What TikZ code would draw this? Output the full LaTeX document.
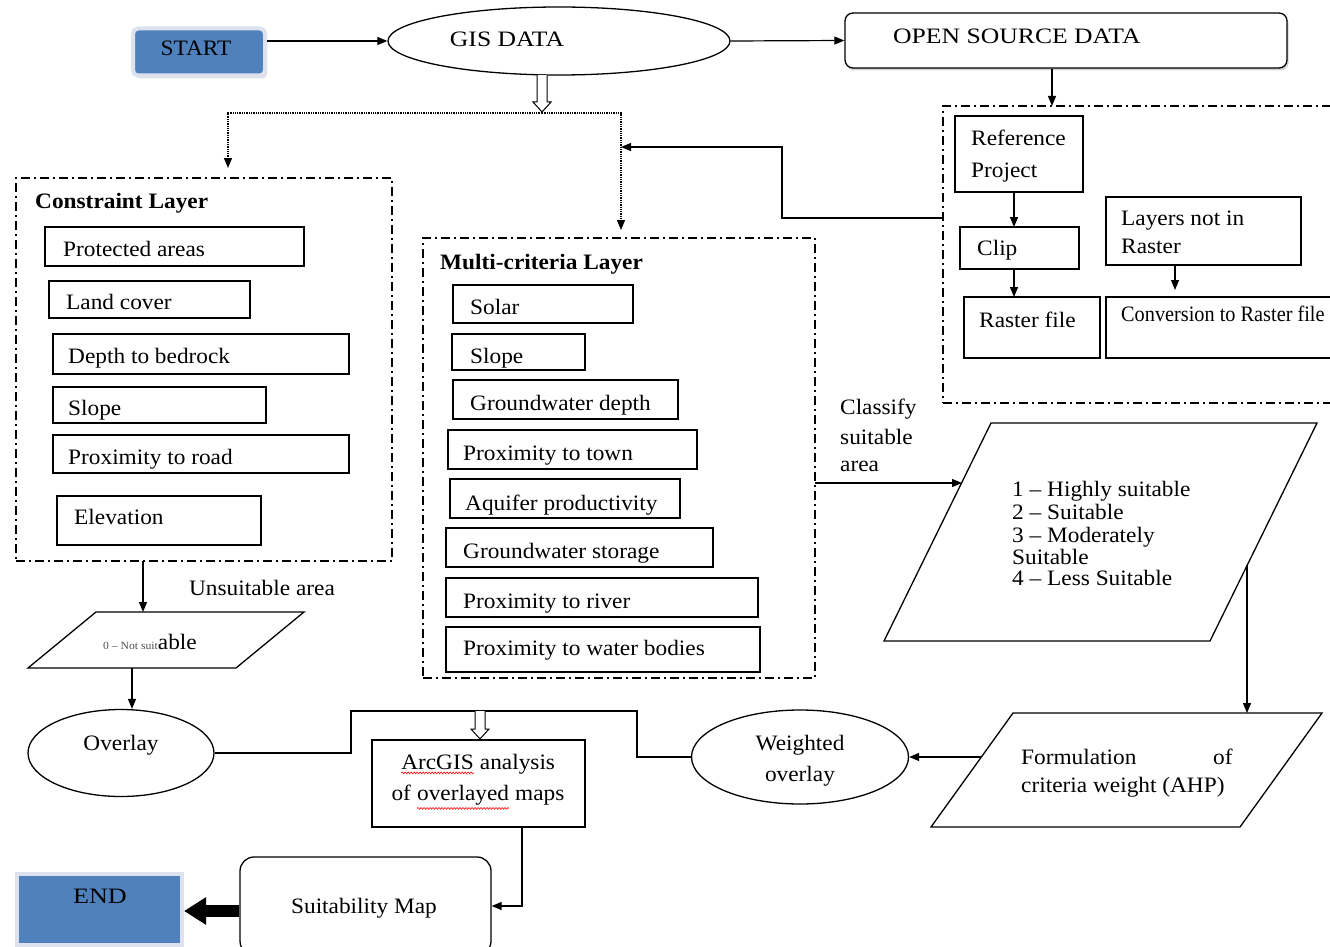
\documentclass[tikz,border=0pt]{standalone}
\usepackage{fontspec}
\setmainfont[FakeStretch=1.06]{Liberation Serif}
\usetikzlibrary{arrows.meta,shapes.geometric,calc,shadows,decorations.pathmorphing}
\definecolor{sblue}{HTML}{4F81BD}
\definecolor{sframe}{HTML}{DCE3EE}
\newcommand\bx[6][]{\node[box,minimum width={#4-#2},minimum height={#5-#3},#1] (#6) at ({(#2+#4)/2},{(#3+#5)/2}) {};}
\newcommand\hollowarrow[3]{\draw[line width=1pt,fill=white] ({#1-5},#2) -- ({#1-5},{#3-10}) -- ({#1-9},{#3-10}) -- (#1,#3) -- ({#1+9},{#3-10}) -- ({#1+5},{#3-10}) -- ({#1+5},#2);}
\newcommand\wv[1]{\tikz[baseline=(w.base)]{\node[inner sep=0pt,outer sep=0pt,anchor=base,draw=none,fill=none](w){#1};\draw[red,line width=0.6pt,decorate,decoration={snake,amplitude=0.9pt,segment length=3pt}]([yshift=-3pt]w.south west)--([yshift=-3pt]w.south east);}}
\begin{document}
\begin{tikzpicture}[x=1pt,y=-1pt,font=\fontsize{22}{26}\selectfont,
  box/.style={draw,line width=1.3pt,inner sep=0pt,outer sep=0pt},
  lbl/.style={inner sep=0pt,anchor=west,text height=14pt,text depth=0pt},
  ar/.style={line width=1.2pt,-{Triangle[length=10pt,width=8pt]}},
  ln/.style={line width=1.2pt},
  dd/.style={draw,line width=1.5pt,dash pattern=on 9pt off 4pt on 2pt off 4pt,inner sep=0pt,outer sep=0pt},
  dt/.style={line width=1.3pt,densely dotted}]
\useasboundingbox (0,0) rectangle (1330,947);

% START
\node[draw=sframe,line width=4pt,fill=sblue,rounded corners=5pt,minimum width=132,minimum height=47,inner sep=0pt,
  drop shadow={shadow xshift=2pt,shadow yshift=-3pt,opacity=0.25}] (start) at (199,52) {};
\node (starttxt) at (196,48) {START};

% GIS DATA
\node[draw,ellipse,line width=1.3pt,minimum width=342,minimum height=68,inner sep=0pt] (gis) at (559,41) {};
\node (gistxt) at (507,39) {\scalebox{1.1}[1]{GIS DATA}};

% OPEN SOURCE DATA
\node[draw,rounded corners=8pt,line width=1.3pt,minimum width=442,minimum height=55,inner sep=0pt,fill=white,
  drop shadow={shadow xshift=1.5pt,shadow yshift=-2.5pt,opacity=0.35}] (osd) at (1066,40.5) {};
\node[lbl] (osdtxt) at (893,37) {\scalebox{1.1}[1]{OPEN SOURCE DATA}};

\draw[ar] (start.east |- gis.west) -- (gis.west);
\draw[ar] (gis.east) -- (osd.west);

% right dash-dot container
\node[dd,minimum width=397,minimum height=297] (rbox) at (1141.5,254.5) {};
\coordinate (rbtop) at (1052,106);
\draw[ar] (osd.south -| rbtop) -- (rbtop);

\bx{955}{116}{1083}{192}{ref}
\node[lbl] at (971,139) {Reference};
\node[lbl] at (971,170) {Project};
\bx{960}{227}{1079}{269}{clip}
\node[lbl] at (977,248) {Clip};
\bx{964}{297}{1100}{358}{raster}
\node[lbl] at (979,320) {Raster file};
\bx{1106}{197}{1301}{265}{layers}
\node[lbl] at (1121,218) {Layers not in};
\node[lbl] at (1121,246) {Raster};
\bx{1106}{297}{1340}{358}{conv}
\node[lbl] at (1121,314) {\scalebox{0.87}[1]{Conversion to Raster file}};

\draw[ar] (ref.south -| 1014,0) -- (clip.north -| 1014,0);
\draw[ar] (clip.south -| 1014,0) -- (raster.north -| 1014,0);
\draw[ar] (layers.south -| 1175,0) -- (1175,290);

% hollow arrow from GIS DATA and dotted split
\hollowarrow{542}{75}{112}
\coordinate (split) at (542,113);
\coordinate (dotL) at (228,168);
\coordinate (dotR) at (621,230);
\draw[dt,-{Triangle[length=10pt,width=8pt]}] (split) -| (dotL);
\draw[dt,-{Triangle[length=10pt,width=8pt]}] (split) -| (dotR);

% arrow from right container back to dotted line
\coordinate (rbl) at (943,218);
\coordinate (dotM) at (621,147);
\draw[ar] (rbl) -- (782,218) -- (782,147) -- (dotM);

% Constraint layer
\node[dd,minimum width=376,minimum height=383] (cbox) at (204,369.5) {};
\node[lbl,font=\fontsize{22}{26}\selectfont\bfseries] at (35,201) {Constraint Layer};
\bx{45}{227}{304}{266}{c1}  \node[lbl] at (63,249) {Protected areas};
\bx{49}{281}{250}{318}{c2}  \node[lbl] at (66,302) {Land cover};
\bx{53}{334}{349}{374}{c3}  \node[lbl] at (68,356) {Depth to bedrock};
\bx{53}{387}{266}{423}{c4}  \node[lbl] at (68,408) {Slope};
\bx{53}{435}{349}{473}{c5}  \node[lbl] at (68,457) {Proximity to road};
\bx{57}{496}{261}{545}{c6}  \node[lbl] at (74,517) {Elevation};

% Multi-criteria layer
\node[dd,minimum width=392,minimum height=440] (mbox) at (619,458) {};
\node[lbl,font=\fontsize{22}{26}\selectfont\bfseries] at (440,262) {Multi-criteria Layer};
\bx{453}{285}{633}{323}{m1}  \node[lbl] at (470,307) {Solar};
\bx{452}{334}{585}{370}{m2}  \node[lbl] at (470,356) {Slope};
\bx{453}{380}{678}{419}{m3}  \node[lbl] at (470,403) {Groundwater depth};
\bx{448}{430}{697}{469}{m4}  \node[lbl] at (463,453) {Proximity to town};
\bx{450}{479}{680}{518}{m5}  \node[lbl] at (465,503) {Aquifer productivity};
\bx{446}{528}{713}{567}{m6}  \node[lbl] at (463,551) {Groundwater storage};
\bx{446}{578}{758}{617}{m7}  \node[lbl] at (463,601) {Proximity to river};
\bx{446}{627}{760}{672}{m8}  \node[lbl] at (463,648) {Proximity to water bodies};

% Unsuitable branch
\coordinate (npt) at (143,612);
\draw[ar] (cbox.south -| npt) -- (npt);
\node (unsuit) at (262,588) {Unsuitable area};
\coordinate (ns1) at (96,612);
\coordinate (ns2) at (304,612);
\coordinate (ns3) at (236,668);
\coordinate (ns4) at (28,668);
\draw[line width=1.3pt] (ns1) -- (ns2) -- (ns3) -- (ns4) -- cycle;
\node (nstxt) at (150,642) {{\fontsize{11}{12}\selectfont\color{black!70}0 -- Not suit}able};

\node[draw,ellipse,line width=1.3pt,minimum width=186,minimum height=87,inner sep=0pt] (ovl) at (121,753) {};
\node at (121,745) {Overlay};
\coordinate (nsb) at (132,668);
\draw[ar] (nsb) -- (ovl.north -| nsb);

% Weighted overlay
\node[draw,ellipse,line width=1.3pt,minimum width=217,minimum height=94,inner sep=0pt] (wov) at (800,757) {};
\node[align=center,font=\fontsize{22}{31}\selectfont] at (800,761) {Weighted\\overlay};

\coordinate (j1) at (351,711);
\coordinate (j2) at (637,711);
\draw[ln] (ovl.east) -| (j1) -- (j2) |- (wov.west);

% ArcGIS
\bx{372}{740}{585}{827}{arc}
\hollowarrow{480}{711}{739}
\node[align=center,font=\fontsize{22}{31}\selectfont] at (478,782) {\wv{ArcGIS} analysis\\of \wv{overlayed} maps};

% Suitability map and END
\node[draw,rounded corners=14pt,line width=1.3pt,minimum width=251,minimum height=98,inner sep=0pt] (suit) at (365.5,906) {};
\node at (364,908) {Suitability Map};
\coordinate (ab) at (522,827);
\draw[ar] (ab) |- (suit.east);

\node[draw=sframe,line width=4pt,fill=sblue,minimum width=165,minimum height=71,inner sep=0pt] (endb) at (99.5,909.5) {};
\node at (100,896) {\scalebox{1.12}[1]{END}};
\draw[line width=12pt,-{Triangle[length=22pt,width=26pt]}] (suit.west |- 0,911) -- (endb.east |- 0,911);

% Classify suitable area
\node[lbl] at (840,407) {Classify};
\node[lbl] at (840,437) {suitable};
\node[lbl] at (840,464) {area};

\coordinate (b1) at (991,423);
\coordinate (b2) at (1317,423);
\coordinate (b3) at (1210,641);
\coordinate (b4) at (884,641);
\draw[line width=1.3pt] (b1) -- (b2) -- (b3) -- (b4) -- cycle;
\coordinate (bpl) at (962,483);
\draw[ar] (mbox.east |- bpl) -- (bpl);
\node[lbl] at (1012,489) {1 -- Highly suitable};
\node[lbl] at (1012,512) {2 -- Suitable};
\node[lbl] at (1012,535) {3 -- Moderately};
\node[lbl] at (1012,557) {Suitable};
\node[lbl] at (1012,578) {4 -- Less Suitable};

% Formulation of criteria weight
\coordinate (f1) at (1013,713);
\coordinate (f2) at (1322,713);
\coordinate (f3) at (1240,827);
\coordinate (f4) at (931,827);
\draw[line width=1.3pt] (f1) -- (f2) -- (f3) -- (f4) -- cycle;
\node[lbl] at (1021,757) {Formulation};
\node[lbl] at (1213,757) {of};
\node[lbl] at (1021,785) {criteria weight (AHP)};
\coordinate (bpr) at (1247,565);
\coordinate (fmt) at (1247,713);
\draw[ar] (bpr) -- (fmt);
\coordinate (fml) at (981,757);
\draw[ar] (fml) -- (wov.east);
\end{tikzpicture}
\end{document}
